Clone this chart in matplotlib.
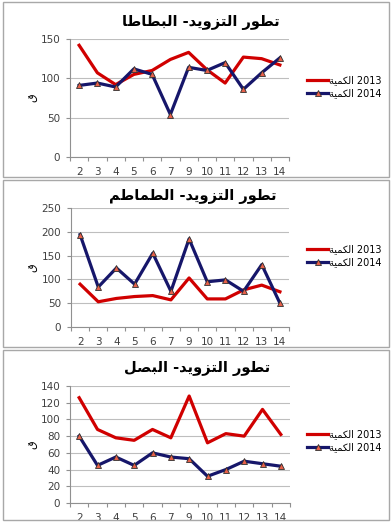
import matplotlib
matplotlib.use("Agg")
import matplotlib.pyplot as plt
from matplotlib.patches import Rectangle
import numpy as np

# data
weeks = ['2', '3', '4', '5', '6', '7', '9', '10', '11', '12', '13', '14']

potato_2013 = [142, 107, 92, 105, 110, 124, 133, 111, 94, 127, 125, 117]
potato_2014 = [91, 94, 89, 112, 105, 54, 114, 110, 120, 86, 107, 126]

tomato_2013 = [90, 53, 60, 64, 66, 57, 103, 59, 59, 78, 88, 74]
tomato_2014 = [194, 84, 124, 90, 155, 75, 185, 95, 99, 75, 131, 50]

onion_2013 = [126, 88, 78, 75, 88, 78, 128, 72, 83, 80, 112, 82]
onion_2014 = [80, 45, 55, 45, 60, 55, 53, 32, 40, 50, 47, 44]

# Arabic presentation forms: isolated, final, initial, medial
FORMS = {
    'ا': (0xFE8D, 0xFE8E, None, None),
    'ب': (0xFE8F, 0xFE90, 0xFE91, 0xFE92),
    'ت': (0xFE95, 0xFE96, 0xFE97, 0xFE98),
    'ة': (0xFE93, 0xFE94, None, None),
    'ط': (0xFEC1, 0xFEC2, 0xFEC3, 0xFEC4),
    'و': (0xFEED, 0xFEEE, None, None),
    'ر': (0xFEAD, 0xFEAE, None, None),
    'ل': (0xFEDD, 0xFEDE, 0xFEDF, 0xFEE0),
    'ز': (0xFEAF, 0xFEB0, None, None),
    'ي': (0xFEF1, 0xFEF2, 0xFEF3, 0xFEF4),
    'د': (0xFEA9, 0xFEAA, None, None),
    'م': (0xFEE1, 0xFEE2, 0xFEE3, 0xFEE4),
    'ص': (0xFEB9, 0xFEBA, 0xFEBB, 0xFEBC),
    'ك': (0xFED9, 0xFEDA, 0xFEDB, 0xFEDC),
    'ق': (0xFED5, 0xFED6, 0xFED7, 0xFED8),
}


def shape(word):
    # join the letters and put them in visual (left to right) order
    out = []
    for i, c in enumerate(word):
        prev = word[i - 1] if i > 0 else None
        nxt = word[i + 1] if i < len(word) - 1 else None
        jp = prev in FORMS and FORMS[prev][2] is not None
        jn = nxt in FORMS and FORMS[c][2] is not None
        iso, fin, ini, med = FORMS[c]
        if jp and jn:
            out.append(chr(med))
        elif jp:
            out.append(chr(fin))
        elif jn:
            out.append(chr(ini))
        else:
            out.append(chr(iso))
    return ''.join(reversed(out))


def title_text(name):
    return shape(name) + ' -' + shape('التزويد') + ' ' + shape('تطور')


plt.rcParams['font.family'] = ['DejaVu Sans']

red = '#D00000'
navy = '#16166A'
grid_c = '#BEBEBE'
tick_c = '#404040'

fig = plt.figure(figsize=(3.92, 5.25), dpi=100)

W, H = 392.0, 525.0
panels = [
    # title, 2013, 2014, ymax, step, axes px (left, right, top, bottom), panel box px (top, bottom), title (x, y), legend y
    ('البطاطا', potato_2013, potato_2014, 150, 50, (70, 289, 39, 157), (2, 177), (201, 22), 87),
    ('الطماطم', tomato_2013, tomato_2014, 250, 50, (71, 289, 208, 327), (180, 347), (193, 197), 256),
    ('البصل', onion_2013, onion_2014, 140, 20, (70, 290, 386, 503), (350, 520), (197, 368), 441),
]

for name, s13, s14, ymax, step, (l, r, t, b), (pt, pb), (tx, ty), ly in panels:
    # grey frame round each chart
    fig.patches.append(Rectangle((3 / W, 1 - pb / H), 386 / W, (pb - pt) / H,
                                 transform=fig.transFigure, fill=False,
                                 edgecolor='#A8A8A8', lw=1.0))
    ax = fig.add_axes([l / W, 1 - b / H, (r - l) / W, (b - t) / H])
    x = np.arange(len(weeks))
    ax.plot(x, s13, color=red, lw=2.3, label=shape('الكمية') + ' 2013', zorder=3)
    ax.plot(x, s14, color=navy, lw=2.3, marker='^', markersize=4.5,
            markerfacecolor='#E8604A', markeredgecolor='#303030', markeredgewidth=0.6,
            label=shape('الكمية') + ' 2014', zorder=4)

    ax.set_xlim(-0.5, len(weeks) - 0.5)
    ax.set_ylim(0, ymax)
    ax.set_yticks(np.arange(0, ymax + 1, step))
    ax.set_xticks(np.arange(-0.5, len(weeks), 1.0))
    ax.set_xticklabels([])
    ax.set_xticks(x, minor=True)
    ax.set_xticklabels(weeks, minor=True)
    ax.tick_params(axis='x', which='major', length=3, color='#909090', direction='out')
    ax.tick_params(axis='x', which='minor', length=0, labelsize=7.5, labelcolor=tick_c, pad=7)
    ax.tick_params(axis='y', length=3, color='#909090', labelsize=7.5, labelcolor=tick_c, pad=4)
    ax.yaxis.grid(True, color=grid_c, lw=0.8)
    ax.set_axisbelow(True)
    for s in ['top', 'right']:
        ax.spines[s].set_visible(False)
    for s in ['left', 'bottom']:
        ax.spines[s].set_color('#909090')
        ax.spines[s].set_linewidth(0.8)

    fig.text(tx / W, 1 - ty / H, title_text(name), ha='center', va='center',
             fontsize=10.5, fontweight='bold')
    fig.text(33 / W, 1 - (t + b) / 2 / H, shape('ق'), rotation=90,
             ha='center', va='center', fontsize=8)
    ax.legend(loc='center left', bbox_to_anchor=(307 / W, 1 - ly / H),
              bbox_transform=fig.transFigure, frameon=False, fontsize=7,
              handlelength=2.2, handletextpad=0.1, labelspacing=0.3,
              borderpad=0, borderaxespad=0)

fig.savefig('out.png', dpi=100)
